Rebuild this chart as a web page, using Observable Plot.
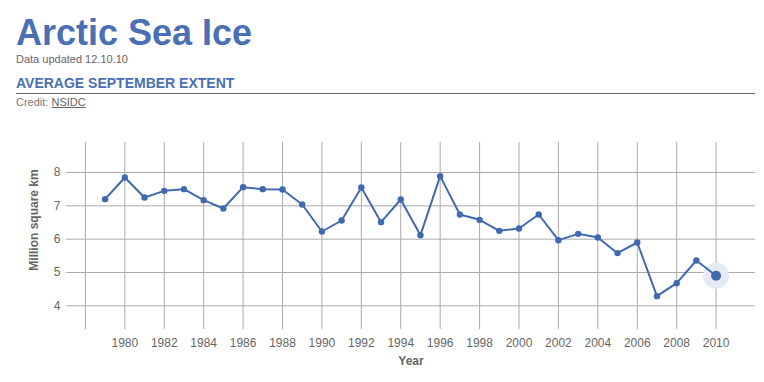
<!DOCTYPE html>
<html>
<head>
<meta charset="utf-8">
<script src="https://cdn.jsdelivr.net/npm/d3@7"></script>
<script src="https://cdn.jsdelivr.net/npm/@observablehq/plot@0.6"></script>
<style>
  html, body { margin: 0; padding: 0; background: #fff; }
  body { width: 764px; height: 382px; position: relative; overflow: hidden; font-family: "Liberation Sans", Arial, sans-serif; }
  #header { position: relative; height: 130px; }
  .abs { position: absolute; left: 16px; white-space: nowrap; line-height: 1; }
  #title { top: 15px; height: 36px; line-height: 36px; font-size: 36px; font-weight: bold; color: #4a6fb5; overflow: visible; }
  #updated { top: 54px; font-size: 11px; color: #666; }
  #subtitle { top: 75.5px; font-size: 14px; font-weight: bold; color: #4a6fb5; }
  #rule { position: absolute; left: 16px; top: 92.5px; width: 739px; height: 0; border-top: 1px solid #666; }
  #credit { top: 96.5px; font-size: 11px; color: #777; }
  #credit u { color: #666; }
  #chart svg { display: block; }
</style>
</head>
<body>
<div id="header">
  <div class="abs" id="title">Arctic Sea Ice</div>
  <div class="abs" id="updated">Data updated 12.10.10</div>
  <div class="abs" id="subtitle">AVERAGE SEPTEMBER EXTENT</div>
  <div id="rule"></div>
  <div class="abs" id="credit">Credit: <u>NSIDC</u></div>
</div>
<div id="chart"></div>
<script>
const years = [1979,1980,1981,1982,1983,1984,1985,1986,1987,1988,1989,1990,1991,1992,1993,1994,1995,1996,1997,1998,1999,2000,2001,2002,2003,2004,2005,2006,2007,2008,2009,2010];
const extent = [7.20,7.85,7.25,7.45,7.50,7.17,6.92,7.56,7.50,7.49,7.04,6.23,6.56,7.55,6.51,7.19,6.12,7.89,6.74,6.58,6.25,6.32,6.74,5.97,6.16,6.05,5.58,5.90,4.29,4.68,5.36,4.90];
const xTicks = [1978,1980,1982,1984,1986,1988,1990,1992,1994,1996,1998,2000,2002,2004,2006,2008,2010];
const yTicks = [4,5,6,7,8];
const xLabel = "Year";
const yLabel = "Million square km";

const data = years.map((y, i) => ({year: y, value: extent[i]}));
const last = [data[data.length - 1]];

const blue = "#4169b0";
const grid = "#aaaaaa";

const chart = Plot.plot({
  width: 764,
  height: 252,
  marginTop: 12,
  marginBottom: 53,
  marginLeft: 66,
  marginRight: 9,
  style: {fontFamily: "Liberation Sans, Arial, sans-serif", fontSize: "12px", color: "#666", background: "#fff"},
  x: {domain: [1977.04, 2012], ticks: xTicks, tickFormat: d => d === 1978 ? "" : String(d), tickSize: 0, tickPadding: 9, label: null},
  y: {domain: [3.29, 8.9], ticks: yTicks, tickFormat: d => String(d), tickSize: 0, tickPadding: 6, label: null},
  marks: [
    Plot.ruleX(xTicks, {stroke: grid, strokeWidth: 1}),
    Plot.ruleY(yTicks, {stroke: grid, strokeWidth: 1}),
    Plot.dot(last, {x: "year", y: "value", r: 13, fill: "#e6eaf4", stroke: "none"}),
    Plot.line(data, {x: "year", y: "value", stroke: blue, strokeWidth: 2}),
    Plot.dot(data, {x: "year", y: "value", r: 3.2, fill: blue, stroke: "none"}),
    Plot.dot(last, {x: "year", y: "value", r: 5, fill: blue, stroke: "none"}),
    Plot.text([xLabel], {frameAnchor: "bottom", dy: 35, fontWeight: "bold", fontSize: 12, fill: "#666"}),
    Plot.text([yLabel], {frameAnchor: "left", textAnchor: "middle", dx: -32, dy: -16, rotate: -90, fontWeight: "bold", fontSize: 12, fill: "#666"})
  ]
});
document.getElementById("chart").appendChild(chart);
</script>
</body>
</html>
